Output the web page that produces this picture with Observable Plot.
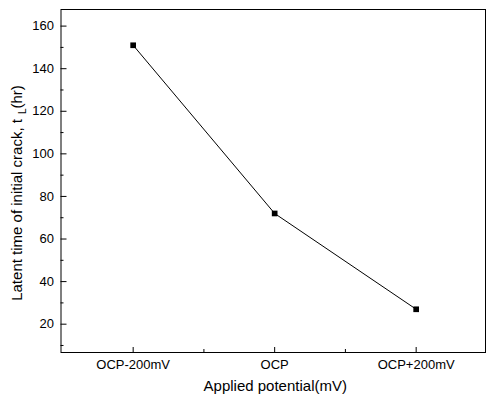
<!DOCTYPE html>
<html><head><meta charset="utf-8">
<script src="https://cdn.jsdelivr.net/npm/d3@7"></script>
<script src="https://cdn.jsdelivr.net/npm/@observablehq/plot@0.6"></script>
<style>body{margin:0;background:#fff} #chart svg{font-family:"Liberation Sans",Arial,sans-serif;}</style>
</head><body><div id="chart"></div>
<script>
const categories = ["OCP-200mV", "OCP", "OCP+200mV"];
const latentTime = [151, 72, 27];
const yTicks = [20, 40, 60, 80, 100, 120, 140, 160];
const yMinorTicks = [10, 30, 50, 70, 90, 110, 130, 150];
const xMinorTicks = [0.5, 1.5];
const xLabel = "Applied potential(mV)";
const yLabelMain = "Latent time of initial crack, t";
const yLabelSub = "L";
const yLabelEnd = "(hr)";

const data = categories.map((c, i) => ({i, c, v: latentTime[i]}));
const W = 486, H = 403, mt = 9, mb = 51, ml = 60.5, mr = 1;
const frameH = H - mt - mb, frameW = W - ml - mr;

const plot = Plot.plot({
  width: W, height: H,
  marginTop: mt, marginBottom: mb, marginLeft: ml, marginRight: mr,
  style: {fontFamily: '"Liberation Sans", Arial, sans-serif', fontSize: "13px", color: "#000", background: "#fff"},
  x: {type: "linear", domain: [-0.51, 2.49]},
  y: {domain: [6.7, 167.8]},
  marks: [
    Plot.axisX([0, 1, 2], {tickSize: 0, tickPadding: 7, tickFormat: i => categories[i], label: null, fontSize: 13}),
    Plot.axisY(yTicks, {tickSize: 0, tickPadding: 7, label: null, fontSize: 13}),
    Plot.tickX([0, 1, 2], {x: d => d, insetTop: frameH - 5, stroke: "#000"}),
    Plot.tickX(xMinorTicks, {x: d => d, insetTop: frameH - 3, stroke: "#000"}),
    Plot.tickY(yTicks, {y: d => d, insetRight: frameW - 6, stroke: "#000"}),
    Plot.tickY(yMinorTicks, {y: d => d, insetRight: frameW - 3, stroke: "#000"}),
    Plot.frame({stroke: "#000"}),
    Plot.line(data, {x: "i", y: "v", stroke: "#000", strokeWidth: 1}),
    Plot.dot(data, {x: "i", y: "v", symbol: "square", fill: "#000", r: 3.2}),
    Plot.text([xLabel], {text: d => d, frameAnchor: "bottom", dy: 38, dx: 2, fontSize: 15, fill: "#000"}),
    Plot.text([yLabelMain], {text: d => d, frameAnchor: "left", textAnchor: "middle", dx: -43.5, dy: 12, rotate: -90, fontSize: 15, fill: "#000"})
  ]
});
document.getElementById("chart").append(plot);

// turn the y label into text with a subscript
d3.select(plot).selectAll("text").filter(function() { return this.textContent === yLabelMain; })
  .each(function() {
    const t = d3.select(this);
    t.text(null);
    t.append("tspan").text(yLabelMain);
    t.append("tspan").attr("dx", 5).attr("dy", 4).attr("font-size", 10).text(yLabelSub);
    t.append("tspan").attr("dy", -4).attr("font-size", 15).text(yLabelEnd);
  });
</script>
</body></html>
